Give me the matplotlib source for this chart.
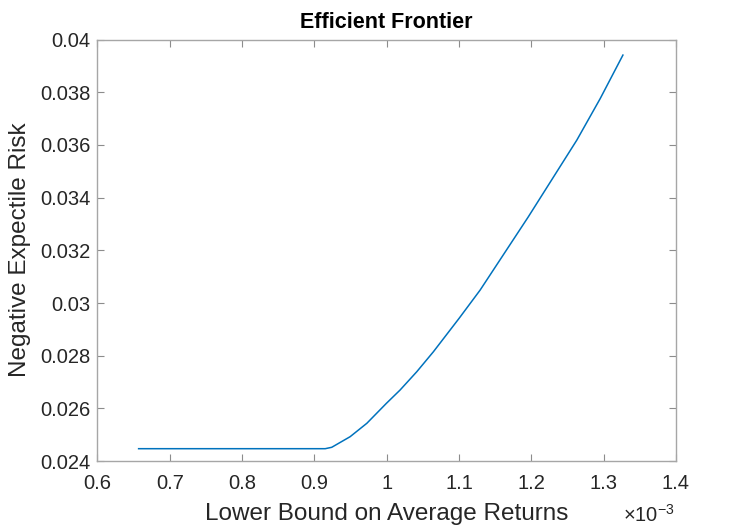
import numpy as np
import matplotlib.pyplot as plt

plt.rcParams['font.family'] = ['Liberation Sans', 'DejaVu Sans']
plt.rcParams['mathtext.fontset'] = 'custom'
plt.rcParams['mathtext.rm'] = 'Liberation Sans'

# Lower bound on average returns (x 1e-3) and negative expectile risk
returns = [0.657, 0.915, 0.924, 0.9494, 0.9725, 0.9996, 1.0185, 1.0416, 1.0646,
           1.1001, 1.1292, 1.1956, 1.2629, 1.2952, 1.3266]
risk = [0.024471, 0.024471, 0.024524, 0.024926, 0.025434, 0.026193, 0.026698, 0.027393,
        0.028152, 0.029419, 0.030493, 0.033264, 0.036186, 0.037761, 0.039412]

xticks = [0.6, 0.7, 0.8, 0.9, 1.0, 1.1, 1.2, 1.3, 1.4]
xlabels = ['0.6', '0.7', '0.8', '0.9', '1', '1.1', '1.2', '1.3', '1.4']
yticks = [0.024, 0.026, 0.028, 0.03, 0.032, 0.034, 0.036, 0.038, 0.04]
ylabels = ['0.024', '0.026', '0.028', '0.03', '0.032', '0.034', '0.036', '0.038', '0.04']

W, H = 747, 530
fig = plt.figure(figsize=(W / 100, H / 100), dpi=100)
ax = fig.add_axes([97.4 / W, 1 - 461.1 / H, (676 - 97.4) / W, (461.1 - 39.6) / H])

ax.plot(returns, risk, color='#0072BD', linewidth=1.1)

ax.set_xlim(0.6, 1.4)
ax.set_ylim(0.024, 0.04)
ax.set_xticks(xticks)
ax.set_xticklabels(xlabels)
ax.set_yticks(yticks)
ax.set_yticklabels(ylabels)

txtcol = '#262626'
for s in ax.spines.values():
    s.set_color('#a6a6a6')
    s.set_linewidth(1.0)
ax.tick_params(direction='in', length=5, width=0.8, color='#8c8c8c', labelcolor=txtcol,
               labelsize=14.5, top=True, right=True)
ax.tick_params(axis='x', pad=9)
ax.tick_params(axis='y', pad=5)

fig.text(386.5 / W, 1 - 28.3 / H, 'Efficient Frontier', ha='center', va='baseline',
         fontsize=15.5, fontweight='bold', color='black')
fig.text(386.5 / W, 1 - 520 / H, 'Lower Bound on Average Returns', ha='center', va='baseline',
         fontsize=17.5, color=txtcol)
fig.text(20 / W, 1 - 250 / H, 'Negative Expectile Risk', ha='center', va='center',
         rotation=90, fontsize=17.5, color=txtcol)
fig.text(675 / W, 1 - 522 / H, r'$\times10^{-3}$', ha='right', va='baseline',
         fontsize=14.5, color=txtcol)

fig.savefig('out.png', dpi=100)
